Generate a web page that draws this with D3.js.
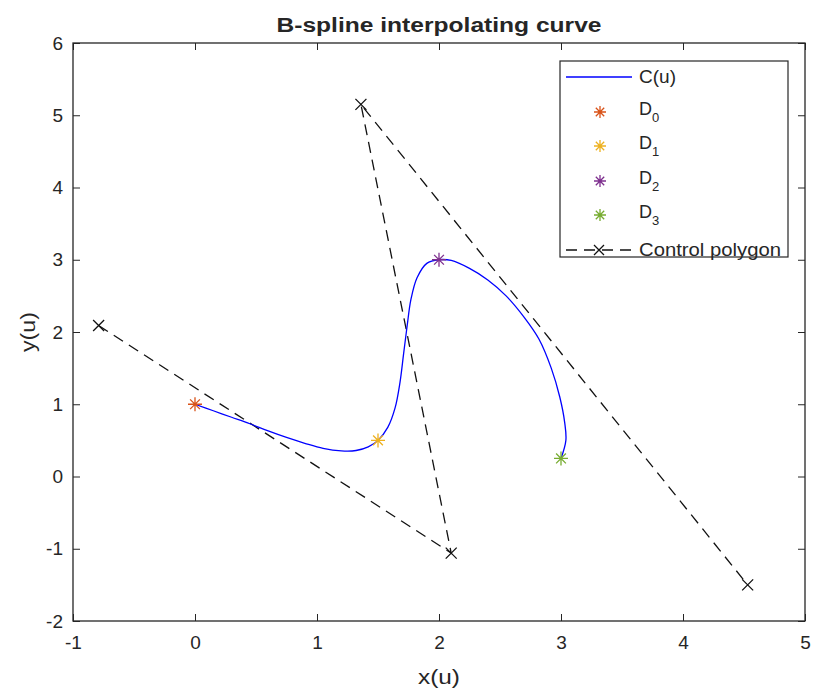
<!DOCTYPE html>
<html><head><meta charset="utf-8">
<script src="https://cdn.jsdelivr.net/npm/d3@7"></script>
<style>body{margin:0;background:#fff}svg{display:block}text{font-family:"Liberation Sans",Arial,Helvetica,sans-serif;fill:#262626}</style>
</head><body>
<script>
// ---- data ----
const curveX = [0,0.15,0.3,0.45,0.6,0.75,0.9,1.05,1.2,1.32,1.42,1.5,1.58,1.64,1.68,1.71,1.74,1.77,1.82,1.9,2.0,2.1,2.25,2.4,2.55,2.7,2.82,2.92,2.99,3.03,3.04,3.0];
const curveY = [1,0.91,0.82,0.73,0.63,0.54,0.46,0.39,0.355,0.36,0.41,0.5,0.68,0.95,1.3,1.7,2.1,2.45,2.75,2.95,3.0,2.99,2.88,2.72,2.5,2.2,1.9,1.5,1.1,0.75,0.5,0.25];
const dataNames = ["D0","D1","D2","D3"];
const dataX = [0,1.5,2,3];
const dataY = [1,0.5,3,0.25];
const dataColors = ["#D95319","#EDB120","#7E2F8E","#77AC30"];
const ctrlX = [-0.79,2.1,1.36,4.53];
const ctrlY = [2.09,-1.06,5.15,-1.5];
const xTicks = [-1,0,1,2,3,4,5];
const yTicks = [-2,-1,0,1,2,3,4,5,6];

const W=814,H=691;
const m={l:73,r:805,t:43,b:621};
const svg=d3.select("body").append("svg").attr("width",W).attr("height",H);
const x=d3.scaleLinear().domain([-1,5]).range([m.l,m.r]);
const y=d3.scaleLinear().domain([-2,6]).range([m.b,m.t]);
const axc="#262626";
const fmt=d=>String(d);

// axes box
const tk=7;
const gx=svg.append("g").attr("transform",`translate(0,${m.b})`).call(d3.axisBottom(x).tickValues(xTicks).tickSize(-tk).tickPadding(15).tickFormat(fmt));
const gxt=svg.append("g").attr("transform",`translate(0,${m.t})`).call(d3.axisTop(x).tickValues(xTicks).tickSize(-tk).tickFormat(""));
const gy=svg.append("g").attr("transform",`translate(${m.l},0)`).call(d3.axisLeft(y).tickValues(yTicks).tickSize(-tk).tickPadding(10).tickFormat(fmt));
const gyr=svg.append("g").attr("transform",`translate(${m.r},0)`).call(d3.axisRight(y).tickValues(yTicks).tickSize(-tk).tickFormat(""));
[gx,gxt,gy,gyr].forEach(g=>{g.selectAll("path,line").attr("stroke",axc).attr("stroke-width",1);g.select(".domain").attr("d",null);});
svg.append("rect").attr("x",m.l).attr("y",m.t).attr("width",m.r-m.l).attr("height",m.b-m.t).attr("fill","none").attr("stroke",axc).attr("stroke-width",1.3);
gx.selectAll("text").attr("font-size",19).attr("fill",axc);
gy.selectAll("text").attr("font-size",19).attr("fill",axc);

// control polygon
const ctrl=ctrlX.map((v,i)=>[v,ctrlY[i]]);
const line=d3.line().x(d=>x(d[0])).y(d=>y(d[1]));
svg.append("path").attr("d",line(ctrl)).attr("fill","none").attr("stroke","#111").attr("stroke-width",1.3).attr("stroke-dasharray","11,7");
function xMark(g,cx,cy,s){g.append("path").attr("d",`M${cx-s},${cy-s}L${cx+s},${cy+s}M${cx-s},${cy+s}L${cx+s},${cy-s}`).attr("stroke","#111").attr("stroke-width",1.3).attr("fill","none");}
ctrl.forEach(d=>xMark(svg,x(d[0]),y(d[1]),5.5));

// curve
const cpts=curveX.map((v,i)=>[v,curveY[i]]);
svg.append("path").attr("d",d3.line().x(d=>x(d[0])).y(d=>y(d[1])).curve(d3.curveCatmullRom.alpha(0.5))(cpts)).attr("fill","none").attr("stroke","#0000FF").attr("stroke-width",1.3);

function star(g,cx,cy,s,c){
  const d=s*0.7;
  g.append("path").attr("d",`M${cx-s},${cy}L${cx+s},${cy}M${cx},${cy-s}L${cx},${cy+s}M${cx-d},${cy-d}L${cx+d},${cy+d}M${cx-d},${cy+d}L${cx+d},${cy-d}`).attr("stroke",c).attr("stroke-width",1.3).attr("fill","none");
}
dataX.forEach((v,i)=>star(svg,x(v),y(dataY[i]),7,dataColors[i]));

// title & labels
svg.append("text").attr("x",(m.l+m.r)/2).attr("y",32).attr("text-anchor","middle").attr("font-size",20).attr("font-weight","bold").attr("fill","#000")
  .attr("textLength",325).attr("lengthAdjust","spacingAndGlyphs").text("B-spline interpolating curve");
svg.append("text").attr("x",(m.l+m.r)/2).attr("y",684).attr("text-anchor","middle").attr("font-size",20)
  .attr("textLength",42).attr("lengthAdjust","spacingAndGlyphs").text("x(u)");
svg.append("text").attr("transform",`translate(35,${(m.t+m.b)/2}) rotate(-90)`).attr("text-anchor","middle").attr("font-size",20)
  .attr("textLength",40).attr("lengthAdjust","spacingAndGlyphs").text("y(u)");

// legend
const lg=svg.append("g");
lg.append("rect").attr("x",560).attr("y",61).attr("width",228).attr("height",196).attr("fill","#fff").attr("stroke",axc).attr("stroke-width",1.2);
const lx0=566,lx1=632,tx=639;
const rows=[77,112,146,181,215,250];
lg.append("line").attr("x1",lx0).attr("x2",lx1).attr("y1",rows[0]).attr("y2",rows[0]).attr("stroke","#0000FF").attr("stroke-width",1.3);
lg.append("text").attr("x",tx).attr("y",rows[0]+6).attr("font-size",18).attr("textLength",37).attr("lengthAdjust","spacingAndGlyphs").text("C(u)");
dataNames.forEach((n,i)=>{
  const yy=rows[i+1];
  star(lg,600,yy,6,dataColors[i]);
  const t=lg.append("text").attr("x",tx).attr("y",yy+3).attr("font-size",18);
  t.append("tspan").text(n[0]);
  t.append("tspan").attr("font-size",13).attr("dy",7).text(n.slice(1));
});
const ry=rows[5];
lg.append("line").attr("x1",lx0).attr("x2",lx1).attr("y1",ry).attr("y2",ry).attr("stroke","#111").attr("stroke-width",1.3).attr("stroke-dasharray","11,7");
xMark(lg,599,ry,5);
lg.append("text").attr("x",tx).attr("y",ry+6).attr("font-size",18).attr("textLength",142).attr("lengthAdjust","spacingAndGlyphs").text("Control polygon");
</script>
</body></html>
